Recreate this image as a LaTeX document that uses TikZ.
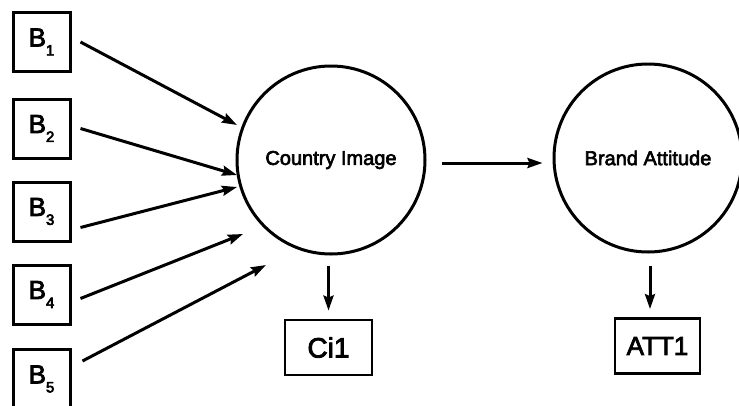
\documentclass[tikz,border=0pt]{standalone}
\usepackage{fontspec}
\setmainfont[FakeBold=3]{Liberation Sans}
\newfontfamily\thickfont[FakeBold=4]{Liberation Sans}
\usetikzlibrary{arrows.meta}
\tikzset{
  box/.style={draw, line width=3pt, inner sep=0pt, minimum width=57pt, minimum height=59pt,
              font=\fontsize{26}{27}\selectfont},
  mbox/.style={draw, line width=2.8pt, inner sep=0pt, minimum height=55pt},
  construct/.style={draw, circle, line width=3pt, inner sep=0pt, font=\fontsize{20}{22}\selectfont},
  arr/.style={line width=3pt, -{Stealth[length=15pt, width=10pt, inset=2pt]}},
}
\newcommand{\bsub}[1]{B\raisebox{-9pt}{\thickfont\fontsize{15}{15}\selectfont #1}}
\begin{document}
\begin{tikzpicture}[x=1pt, y=-1pt]
  \useasboundingbox (0,0) rectangle (739,405);

  % indicator boxes
  \node[box] (b1) at (41.5,42) {\bsub{1}};
  \node[box] (b2) at (41.5,128.5) {\bsub{2}};
  \node[box] (b3) at (41.5,211.5) {\bsub{3}};
  \node[box] (b4) at (41.5,294.5) {\bsub{4}};
  \node[box] (b5) at (41.5,379) {\bsub{5}};

  % latent constructs
  \node[construct, minimum size=188pt] (ci) at (331,160) {Country Image};
  \node[construct, minimum size=188pt] (ba) at (648,158) {Brand Attitude};

  % measurement boxes
  \node[mbox, minimum width=87pt, font=\fontsize{28}{29}\selectfont] (ci1) at (328.5,347.5) {Ci1};
  \node[mbox, minimum width=85pt, font=\fontsize{26}{28}\selectfont] (att1) at (657.5,346) {ATT1};

  % arrow ends in front of the country image circle
  \coordinate (e1) at (237,125);
  \coordinate (e2) at (237,175);
  \coordinate (e3) at (237,187);
  \coordinate (e4) at (243,234);
  \coordinate (e5) at (266,265);

  \draw[arr] ([xshift=9pt]b1.east) -- (e1);
  \draw[arr] ([xshift=9pt]b2.east) -- (e2);
  \draw[arr] ([shift={(9pt,-16pt)}]b3.east) -- (e3);
  \draw[arr] ([shift={(9pt,-4pt)}]b4.east) -- (e4);
  \draw[arr] ([shift={(11pt,18pt)}]b5.east) -- (e5);

  % structural path and loadings
  \draw[arr] ([xshift=15pt,yshift=-3pt]ci.east) -- ([xshift=-10pt,yshift=-5pt]ba.west);
  \draw[arr] ([yshift=-10pt]ci.south -| ci1.north) -- ([yshift=8pt]ci1.north);
  \draw[arr] ([yshift=-12pt]ba.south -| 650,0) -- ([yshift=8pt]att1.north -| 650,0);
\end{tikzpicture}
\end{document}
